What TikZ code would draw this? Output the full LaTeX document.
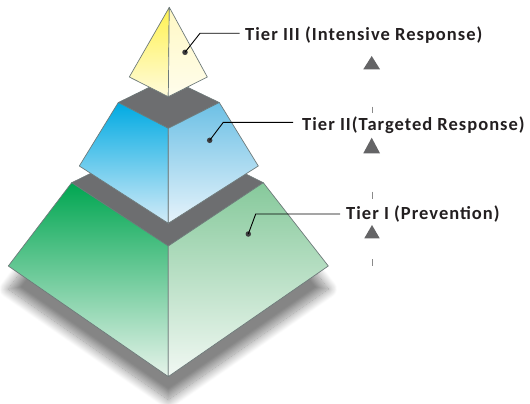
\documentclass[tikz,border=0pt]{standalone}
\usepackage{fontspec}
\setmainfont{Carlito}
\newfontfamily\tierfont{Carlito}[LetterSpace=5.5]
\usetikzlibrary{shadows.blur}

\definecolor{edgegray}{HTML}{6E7A7A}
\definecolor{topgray}{HTML}{6D6E70}
\definecolor{labeltext}{HTML}{231F20}
\definecolor{pingray}{HTML}{3C3C3E}
\definecolor{markgray}{HTML}{646466}
\definecolor{tickgray}{HTML}{8A8A8A}
% tier III (yellow)
\definecolor{yLtop}{HTML}{FFF250}
\definecolor{yLbot}{HTML}{FFFBDC}
\definecolor{yRtop}{HTML}{FFF8C4}
\definecolor{yRbot}{HTML}{FFFDEC}
% tier II (blue)
\definecolor{bLtop}{HTML}{00AAE2}
\definecolor{bLbot}{HTML}{D3EBF8}
\definecolor{bRtop}{HTML}{6CC0E5}
\definecolor{bRbot}{HTML}{E6F3FB}
% tier I (green)
\definecolor{gLtop}{HTML}{00A651}
\definecolor{gLbot}{HTML}{E6F3EA}
\definecolor{gRtop}{HTML}{86C99B}
\definecolor{gRbot}{HTML}{F1F8F3}

\begin{document}
\begin{tikzpicture}[x=1pt, y=-1pt,
  face/.style={draw=edgegray, line width=0.7pt, line join=round},
  topface/.style={fill=topgray, draw=edgegray, line width=0.6pt, line join=round},
  tierlabel/.style={font=\tierfont\bfseries\fontsize{18.5}{22}\selectfont, text=labeltext,
    inner sep=0pt, anchor=base west},
  leader/.style={draw=black, line width=0.9pt},
  pin/.style={circle, fill=pingray, inner sep=0pt, minimum size=5.5pt},
  marker/.style={fill=markgray, draw=none},
  tickmark/.style={draw=tickgray, line width=0.6pt}]
\useasboundingbox (0,0) rectangle (530,404);

% ---- corner points ----
% tier I
\coordinate (g-l)  at (8.3,266);
\coordinate (g-tl) at (71.7,182.7);
\coordinate (g-ft) at (168.3,246);
\coordinate (g-tr) at (263.3,182.7);
\coordinate (g-r)  at (328.3,266);
\coordinate (g-b)  at (168.3,376.6);
\coordinate (g-bk) at (168.3,135);
% tier II
\coordinate (b-bl) at (79.3,166);
\coordinate (b-tl) at (118.3,102.5);
\coordinate (b-ft) at (168.3,128.3);
\coordinate (b-tr) at (219.3,102.5);
\coordinate (b-br) at (258.3,166);
\coordinate (b-fb) at (168.3,223.3);
\coordinate (b-bk) at (168.3,78);
% tier III
\coordinate (y-a)  at (169.3,7.3);
\coordinate (y-l)  at (129.3,77);
\coordinate (y-f)  at (168.3,96.7);
\coordinate (y-r)  at (207.3,77);

% ---- cast shadow of the base ----
\path[blur shadow={shadow xshift=0pt, shadow yshift=-23pt,
      shadow blur radius=9pt, shadow opacity=48, shadow blur steps=20}]
  (g-l) -- (g-tl) -- (g-tr) -- (g-r) -- (g-b) -- cycle;

% ---- tier I ----
\path[topface] (g-tl) -- (g-ft) -- (g-tr) -- (g-bk) -- cycle;
\path[face, top color=gLtop, bottom color=gLbot] (g-tl) -- (g-ft) -- (g-b) -- (g-l) -- cycle;
\path[face, top color=gRtop, bottom color=gRbot] (g-ft) -- (g-tr) -- (g-r) -- (g-b) -- cycle;

% ---- tier II ----
\path[topface] (b-tl) -- (b-ft) -- (b-tr) -- (b-bk) -- cycle;
\path[face, top color=bLtop, bottom color=bLbot] (b-tl) -- (b-ft) -- (b-fb) -- (b-bl) -- cycle;
\path[face, top color=bRtop, bottom color=bRbot] (b-ft) -- (b-tr) -- (b-br) -- (b-fb) -- cycle;

% ---- tier III ----
\path[face, top color=yLtop, bottom color=yLbot] (y-a) -- (y-f) -- (y-l) -- cycle;
\path[face, top color=yRtop, bottom color=yRbot] (y-a) -- (y-r) -- (y-f) -- cycle;

% ---- labels with leader lines ----
\node[tierlabel] (t3) at (245,40.5) {Tier III (Intensive Response)};
\node[tierlabel] (t2) at (302,130.5) {Tier II(Targeted Response)};
\node[tierlabel] (t1) at (346,219.5) {Tier I (Prevention)};

\node[pin] (p3) at (185,52.3) {};
\node[pin] (p2) at (209.7,140.3) {};
\node[pin] (p1) at (248.3,234) {};

\coordinate (e3) at (200,33.3);
\coordinate (e2) at (223.3,122.3);
\coordinate (e1) at (255.7,214);

\draw[leader] (t3.west |- e3) ++(-5.5,0) -- (e3) -- (p3.center);
\draw[leader] (t2.west |- e2) ++(-9,0) -- (e2) -- (p2.center);
\draw[leader] (t1.west |- e1) ++(-6,0) -- (e1) -- (p1.center);

% ---- level markers ----
\path[marker] (363.3,69.3) -- (380,69.3) -- (371.7,56) -- cycle;
\path[marker] (363.3,153.3) -- (380,153.3) -- (371.7,137.7) -- cycle;
\path[marker] (364.3,238.3) -- (379.7,238.3) -- (372,225) -- cycle;

\draw[tickmark] (372.3,106.7) -- (372.3,112.7);
\draw[tickmark] (372.3,191.7) -- (372.3,199.3);
\draw[tickmark] (372.3,259.3) -- (372.3,266);
\end{tikzpicture}
\end{document}
